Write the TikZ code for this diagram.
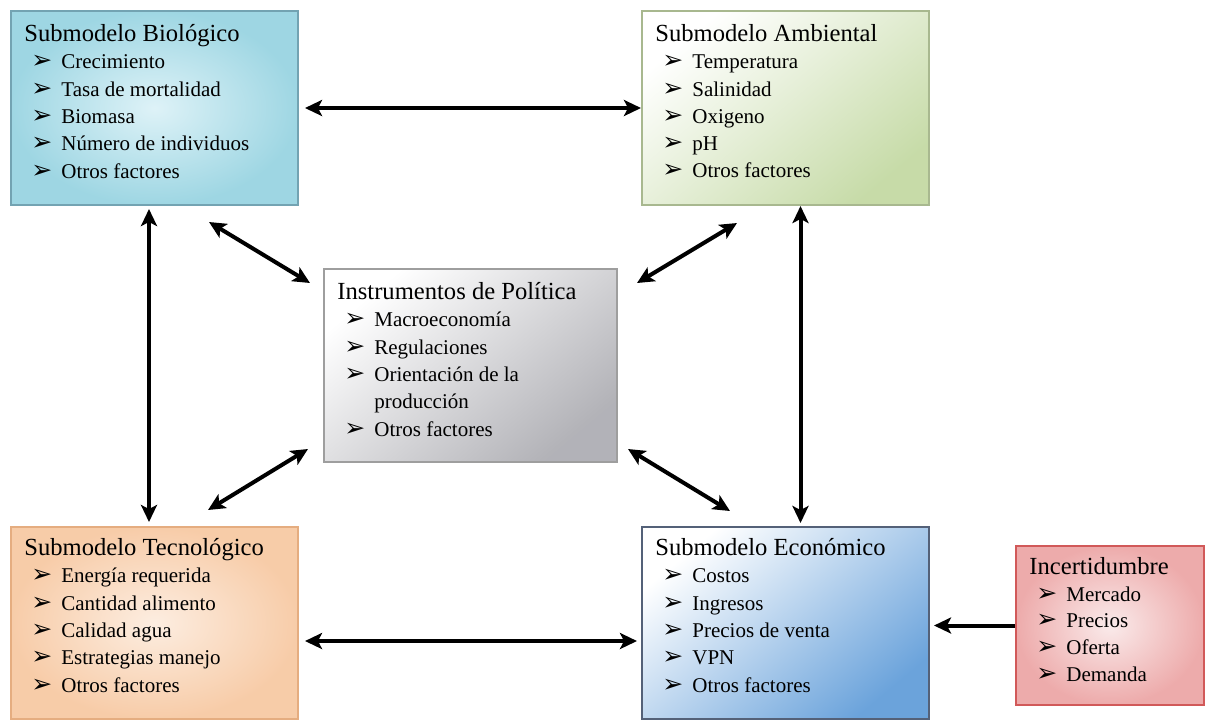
\documentclass[tikz,border=0pt]{standalone}
\usepackage{fontspec}
\setmainfont{Liberation Serif}
\newfontfamily\arrowfont{DejaVu Sans}
\usetikzlibrary{arrows.meta}

\definecolor{bioline}{rgb}{0.45, 0.64, 0.70}
\definecolor{bioout}{rgb}{0.62, 0.84, 0.89}
\definecolor{bioin}{rgb}{0.87, 0.95, 0.97}
\definecolor{ambline}{rgb}{0.66, 0.72, 0.56}
\definecolor{ambfill}{rgb}{0.78, 0.86, 0.66}
\definecolor{polline}{rgb}{0.62, 0.62, 0.62}
\definecolor{polfill}{rgb}{0.70, 0.70, 0.72}
\definecolor{tecline}{rgb}{0.90, 0.68, 0.50}
\definecolor{tecout}{rgb}{0.97, 0.80, 0.66}
\definecolor{tecin}{rgb}{0.99, 0.93, 0.88}
\definecolor{ecoline}{rgb}{0.33, 0.38, 0.47}
\definecolor{ecofill}{rgb}{0.42, 0.64, 0.86}
\definecolor{incline}{rgb}{0.82, 0.35, 0.35}
\definecolor{incout}{rgb}{0.93, 0.67, 0.67}
\definecolor{incin}{rgb}{0.98, 0.92, 0.92}

\tikzset{panel/.style = {draw, line width=1pt, anchor=north west, inner sep=0,
                         minimum width=143.5pt, minimum height=97pt}}
\tikzset{txt/.style = {anchor=north west, inner sep=0, align=left,
                       font=\rmfamily\fontsize{10.5pt}{13.65pt}\selectfont}}
\tikzset{twoway/.style = {line width=2pt,
                          {Stealth[length=8.5pt, width=8pt, inset=2pt]}-{Stealth[length=8.5pt, width=8pt, inset=2pt]}}}
\tikzset{oneway/.style = {line width=2pt, -{Stealth[length=8.5pt, width=8pt, inset=2pt]}}}

\newcommand{\hdr}[1]{{\rmfamily\fontsize{12.3pt}{13.65pt}\selectfont #1}}
\newcommand{\itm}[1]{\\\hspace*{3.5pt}\makebox[15pt][l]{{\arrowfont\fontsize{12.5pt}{12.5pt}\selectfont ➢}}{\rmfamily #1}}

\begin{document}
\begin{tikzpicture}[x=0.5pt, y=-0.5pt]
    \useasboundingbox (0, 0) rectangle (1209, 720);

    \node [panel, draw=bioline, inner color=bioin, outer color=bioout] (bio) at (10, 10) {};
    \node [txt] (bio text) at ([shift={(14, 14)}]bio.north west)
      {\hdr{Submodelo Biológico}\itm{Crecimiento}\itm{Tasa de mortalidad}\itm{Biomasa}\itm{Número de individuos}\itm{Otros factores}};

    \node [panel, draw=ambline, top color=white, bottom color=ambfill, shading angle=40] (amb) at (641, 10) {};
    \node [txt] (amb text) at ([shift={(14, 14)}]amb.north west)
      {\hdr{Submodelo Ambiental}\itm{Temperatura}\itm{Salinidad}\itm{Oxigeno}\itm{pH}\itm{Otros factores}};

    \node [panel, draw=polline, top color=white, bottom color=polfill, shading angle=40,
           minimum width=146.5pt, minimum height=96.5pt] (pol) at (323, 268) {};
    \node [txt] (pol text) at ([shift={(14, 14)}]pol.north west)
      {\hdr{Instrumentos de Política}\itm{Macroeconomía}\itm{Regulaciones}\itm{Orientación de la}\\\hspace*{18.5pt}producción\itm{Otros factores}};

    \node [panel, draw=tecline, inner color=tecin, outer color=tecout, minimum height=96pt] (tec) at (10, 526) {};
    \node [txt] (tec text) at ([shift={(14, 12)}]tec.north west)
      {\hdr{Submodelo Tecnológico}\itm{Energía requerida}\itm{Cantidad alimento}\itm{Calidad agua}\itm{Estrategias manejo}\itm{Otros factores}};

    \node [panel, draw=ecoline, top color=white, bottom color=ecofill, shading angle=40, minimum height=96pt] (eco) at (641, 526) {};
    \node [txt] (eco text) at ([shift={(14, 12)}]eco.north west)
      {\hdr{Submodelo Económico}\itm{Costos}\itm{Ingresos}\itm{Precios de venta}\itm{VPN}\itm{Otros factores}};

    \node [panel, draw=incline, inner color=incin, outer color=incout,
           minimum width=94pt, minimum height=79.5pt] (inc) at (1015, 545) {};
    \node [txt, font=\rmfamily\fontsize{10.5pt}{13.35pt}\selectfont] (inc text) at ([shift={(14, 12)}]inc.north west)
      {\hdr{Incertidumbre}\itm{Mercado}\itm{Precios}\itm{Oferta}\itm{Demanda}};

    \draw [twoway, shorten <=3pt] (bio.east) -- (amb.west);
    \draw [twoway, shorten <=1.5pt, shorten >=2pt] ([xshift=-2.75pt]bio.south) -- ([xshift=-2.75pt]tec.north);
    \draw [twoway, shorten >=1.5pt] ([xshift=7.5pt]amb.south) -- ([xshift=7.5pt]eco.north);
    \draw [twoway, shorten <=3pt, shorten >=2pt] ([yshift=-9pt]tec.east) -- ([yshift=-9pt]eco.west);
    \draw [oneway, shorten >=2pt] (inc.west) -- (inc.west -| eco.east);

    \draw [twoway] ([shift={(-90, 16)}]bio.south east) -- ([shift={(-13, 15)}]pol.north west);
    \draw [twoway] ([shift={(96, 17)}]amb.south west) -- ([shift={(19, 15)}]pol.north east);
    \draw [twoway] ([shift={(-15, -14)}]pol.south west) -- ([shift={(-91, -16)}]tec.north east);
    \draw [twoway] ([shift={(10, -14)}]pol.south east) -- ([shift={(89, -15)}]eco.north west);
\end{tikzpicture}
\end{document}
